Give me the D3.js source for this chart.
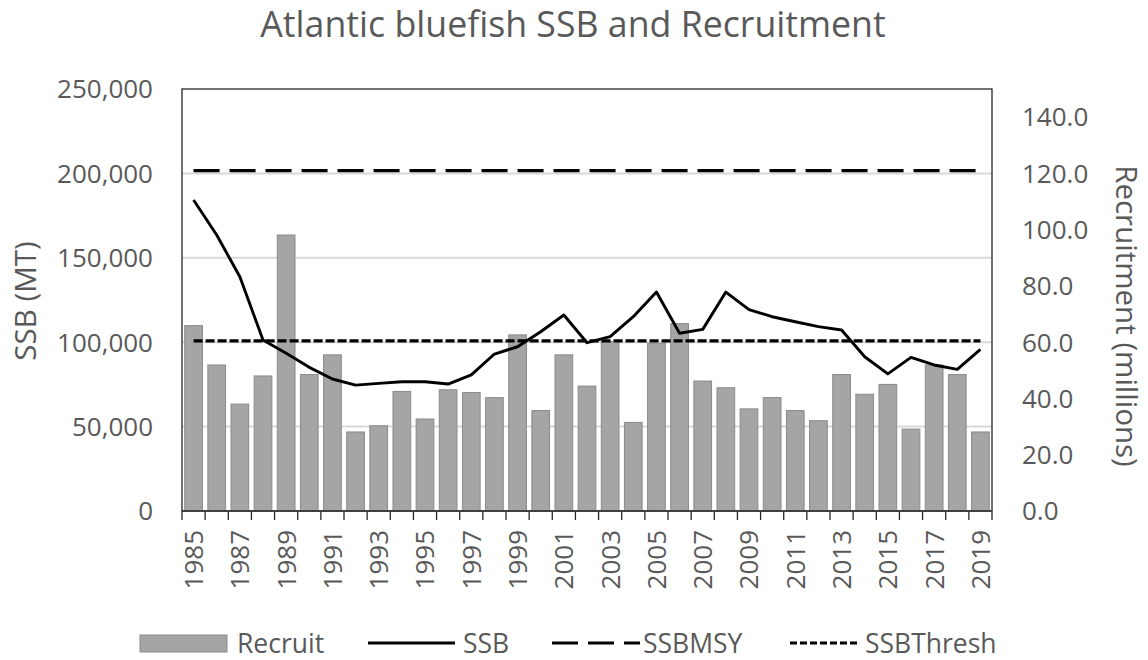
<!DOCTYPE html>
<html>
<head>
<meta charset="utf-8">
<script src="https://cdn.jsdelivr.net/npm/d3@7"></script>
<style>
  body { margin: 0; background: #fff; }
  text { font-family: "Open Sans", sans-serif; fill: #595959; }
</style>
</head>
<body>
<div id="chart"></div>
<script>
// data
var years = d3.range(1985, 2020);
var recruit = [65.9, 51.9, 38.0, 48.0, 98.1, 48.5, 55.5, 28.1, 30.3, 42.5,
  32.7, 43.1, 42.1, 40.3, 62.6, 35.7, 55.5, 44.4, 60.2, 31.5,
  59.6, 66.6, 46.2, 43.8, 36.3, 40.3, 35.7, 32.1, 48.5, 41.5,
  45.0, 29.1, 51.9, 48.5, 28.1];
var ssb = [184200, 163500, 138800, 101300, 93400, 85100, 78200, 74600, 75600, 76600,
  76600, 75200, 80600, 93000, 97300, 106200, 116100, 99700, 103300, 115100,
  129700, 105300, 107600, 129700, 119300, 115100, 112100, 109200, 107200, 91400,
  81200, 91000, 86500, 83900, 95800];
var ssbMsy = 201600;
var ssbThresh = 100800;
var leftTicks = [0, 50000, 100000, 150000, 200000, 250000];
var rightTicks = [0, 20, 40, 60, 80, 100, 120, 140];
var labelYears = years.filter(function (y) { return (y - 1985) % 2 === 0; });

function BluefishChart(params) {

  var attrs = Object.assign({
    container: '#chart',
    width: 1148,
    height: 660,
    margin: { top: 89, right: 156, bottom: 149, left: 182 },
    barColor: '#a5a5a5',
    barStroke: '#8a8a8a',
    gridColor: '#d9d9d9'
  }, params);

  var viz = {};

  function main() {
    var chartWidth = attrs.width - attrs.margin.left - attrs.margin.right;
    var chartHeight = attrs.height - attrs.margin.top - attrs.margin.bottom;

    var x = d3.scaleBand()
      .domain(years)
      .range([0, chartWidth])
      .paddingInner(0.235)
      .paddingOuter(0.1175);

    var yLeft = d3.scaleLinear().domain([0, 250000]).range([chartHeight, 0]);
    var yRight = d3.scaleLinear().domain([0, 150]).range([chartHeight, 0]);

    var cx = function (d) { return x(d) + x.bandwidth() / 2; };

    viz.svg = d3.select(attrs.container).append('svg')
      .attr('width', attrs.width)
      .attr('height', attrs.height);

    // title
    viz.svg.append('text')
      .attr('x', 573)
      .attr('y', 37)
      .attr('text-anchor', 'middle')
      .style('font-size', '35.7px')
      .text('Atlantic bluefish SSB and Recruitment');

    viz.chart = viz.svg.append('g')
      .attr('transform', `translate(${attrs.margin.left}, ${attrs.margin.top})`);

    // gridlines
    viz.chart.append('g')
      .selectAll('line')
      .data(leftTicks.slice(1, -1))
      .join('line')
      .attr('x1', 0)
      .attr('x2', chartWidth)
      .attr('y1', yLeft)
      .attr('y2', yLeft)
      .attr('stroke', attrs.gridColor)
      .attr('stroke-width', 2);

    // bars
    viz.chart.append('g')
      .selectAll('rect')
      .data(years)
      .join('rect')
      .attr('x', function (d) { return x(d); })
      .attr('width', x.bandwidth())
      .attr('y', function (d, i) { return yRight(recruit[i]); })
      .attr('height', function (d, i) { return chartHeight - yRight(recruit[i]); })
      .attr('fill', attrs.barColor)
      .attr('stroke', attrs.barStroke)
      .attr('stroke-width', 1);

    // reference lines
    var x0 = cx(years[0]), x1 = cx(years[years.length - 1]);
    viz.chart.append('line')
      .attr('x1', x0).attr('x2', x1)
      .attr('y1', yLeft(ssbMsy)).attr('y2', yLeft(ssbMsy))
      .attr('stroke', '#000')
      .attr('stroke-width', 3.2)
      .attr('stroke-dasharray', '26 10');

    viz.chart.append('line')
      .attr('x1', x0).attr('x2', x1)
      .attr('y1', yLeft(ssbThresh)).attr('y2', yLeft(ssbThresh))
      .attr('stroke', '#000')
      .attr('stroke-width', 3.2)
      .attr('stroke-dasharray', '9 3');

    // SSB line
    var line = d3.line()
      .x(function (d, i) { return cx(years[i]); })
      .y(function (d) { return yLeft(d); });

    viz.chart.append('path')
      .datum(ssb)
      .attr('d', line)
      .attr('fill', 'none')
      .attr('stroke', '#000')
      .attr('stroke-width', 2.9)
      .attr('stroke-linejoin', 'round');

    // plot area border
    viz.chart.append('rect')
      .attr('width', chartWidth)
      .attr('height', chartHeight)
      .attr('fill', 'none')
      .attr('stroke', '#262626')
      .attr('stroke-width', 1.3);

    // x ticks at band edges
    var edges = years.map(function (d) { return x(d) - x.step() * x.paddingInner() / 2; });
    edges.push(chartWidth);
    viz.chart.append('g')
      .selectAll('line')
      .data(edges)
      .join('line')
      .attr('x1', function (d) { return d; })
      .attr('x2', function (d) { return d; })
      .attr('y1', chartHeight)
      .attr('y2', chartHeight + 9)
      .attr('stroke', '#262626')
      .attr('stroke-width', 1.3);
    viz.chart.append('line')
      .attr('x1', 0).attr('x2', chartWidth)
      .attr('y1', chartHeight).attr('y2', chartHeight)
      .attr('stroke', '#404040')
      .attr('stroke-width', 2);

    // x labels
    viz.chart.append('g')
      .selectAll('text')
      .data(labelYears)
      .join('text')
      .attr('transform', function (d) { return `translate(${cx(d)}, ${chartHeight + 19}) rotate(-90)`; })
      .attr('text-anchor', 'end')
      .attr('dy', '0.36em')
      .style('font-size', '26px')
      .text(function (d) { return d; });

    // left axis labels
    viz.chart.append('g')
      .selectAll('text')
      .data(leftTicks)
      .join('text')
      .attr('x', -29)
      .attr('y', yLeft)
      .attr('dy', '0.36em')
      .attr('text-anchor', 'end')
      .style('font-size', '26px')
      .text(d3.format(','));

    // right axis labels
    viz.chart.append('g')
      .selectAll('text')
      .data(rightTicks)
      .join('text')
      .attr('x', chartWidth + 30)
      .attr('y', yRight)
      .attr('dy', '0.36em')
      .attr('text-anchor', 'start')
      .style('font-size', '26px')
      .text(d3.format('.1f'));

    // axis titles
    viz.svg.append('text')
      .attr('transform', 'translate(25, 301) rotate(-90)')
      .attr('text-anchor', 'middle')
      .attr('dy', '0.36em')
      .style('font-size', '29.5px')
      .text('SSB (MT)');

    viz.svg.append('text')
      .attr('transform', 'translate(1127, 316) rotate(90)')
      .attr('text-anchor', 'middle')
      .attr('dy', '0.36em')
      .style('font-size', '29.5px')
      .text('Recruitment (millions)');

    legend();
  }

  function legend() {
    var g = viz.svg.append('g').attr('transform', 'translate(0, 643)');

    g.append('rect')
      .attr('x', 140).attr('y', -8)
      .attr('width', 87).attr('height', 17)
      .attr('fill', attrs.barColor)
      .attr('stroke', attrs.barStroke);

    var items = [
      { x1: 368, x2: 455, dash: null },
      { x1: 552, x2: 640, dash: '26 10' },
      { x1: 790, x2: 860, dash: '7 3' }
    ];
    g.selectAll('line')
      .data(items)
      .join('line')
      .attr('x1', function (d) { return d.x1; })
      .attr('x2', function (d) { return d.x2; })
      .attr('stroke', '#000')
      .attr('stroke-width', function (d) { return d.dash ? 3.2 : 2.9; })
      .attr('stroke-dasharray', function (d) { return d.dash; });

    var labels = [
      { x: 237, t: 'Recruit' },
      { x: 463, t: 'SSB' },
      { x: 643, t: 'SSBMSY' },
      { x: 865, t: 'SSBThresh' }
    ];
    g.selectAll('text')
      .data(labels)
      .join('text')
      .attr('x', function (d) { return d.x; })
      .attr('dy', '0.36em')
      .style('font-size', '26.5px')
      .text(function (d) { return d.t; });
  }

  main.render = function () {
    main();
    return main;
  };

  return main;
}

BluefishChart({}).render();
</script>
</body>
</html>
